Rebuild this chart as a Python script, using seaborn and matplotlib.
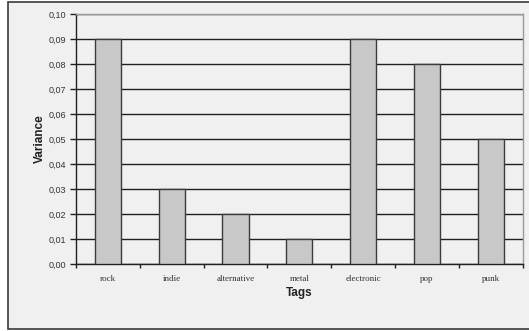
import matplotlib
matplotlib.use("Agg")
import matplotlib.pyplot as plt
from matplotlib.patches import Rectangle
from matplotlib.ticker import MultipleLocator, FuncFormatter
import seaborn as sns
import pandas as pd

tags = ["rock", "indie", "alternative", "metal", "electronic", "pop", "punk"]
variance = [0.09, 0.03, 0.02, 0.01, 0.09, 0.08, 0.05]

sns.set_theme(style="white")
plt.rcParams["font.family"] = ["Liberation Sans", "DejaVu Sans"]

df = pd.DataFrame({"Tags": tags, "Variance": variance})

fig = plt.figure(figsize=(5.29, 3.31), dpi=100, facecolor="white")
W, H = 529, 331

# chart frame around the whole plot
fig.patches.append(Rectangle((8 / W, 1 - 329 / H), 540 / W, 327 / H,
                             transform=fig.transFigure, facecolor="#f0f0f0",
                             edgecolor="#3a3a3a", linewidth=1.2, zorder=-5))

ax = fig.add_axes([76 / W, 1 - 264 / H, (522.7 - 76) / W, (264 - 14) / H])
ax.set_facecolor("#f0f0f0")

sns.barplot(data=df, x="Tags", y="Variance", ax=ax, color="#c8c8c8",
            edgecolor="#3c3c3c", linewidth=1.0, width=0.41, saturation=1,
            zorder=3)

ax.set_ylim(0, 0.10)
ax.set_xlim(-0.5, len(tags) - 0.5)
ax.yaxis.set_major_locator(MultipleLocator(0.01))
ax.yaxis.set_major_formatter(FuncFormatter(lambda v, p: f"{v:.2f}".replace(".", ",")))
ax.yaxis.grid(True, color="#202020", linewidth=1.0, zorder=1)
ax.set_axisbelow(True)

# ticks between categories on the x axis
ax.set_xticks([i + 0.5 for i in range(-1, len(tags))], minor=False)
ax.set_xticklabels([])
ax.set_xticks(range(len(tags)), minor=True)
ax.set_xticklabels(tags, minor=True, fontsize=6.5, family="Liberation Serif",
                   color="#333333")
ax.tick_params(axis="x", which="major", direction="out", length=3, width=1,
               color="#202020", bottom=True)
ax.tick_params(axis="x", which="minor", length=0, pad=8)
ax.tick_params(axis="y", direction="out", length=4, width=1, color="#202020",
               left=True, labelsize=6.5, labelcolor="#333333", pad=3)

for side in ["left", "bottom"]:
    ax.spines[side].set_color("#202020")
    ax.spines[side].set_linewidth(1.0)
for side in ["top", "right"]:
    ax.spines[side].set_color("#9a9a9a")
    ax.spines[side].set_linewidth(1.0)

ax.set_xlabel("Tags", fontsize=8.5, fontweight="bold", color="#222222", labelpad=3)
ax.set_ylabel("Variance", fontsize=8.5, fontweight="bold", color="#222222", labelpad=2)

fig.savefig("out.png", dpi=100, facecolor=fig.get_facecolor())
